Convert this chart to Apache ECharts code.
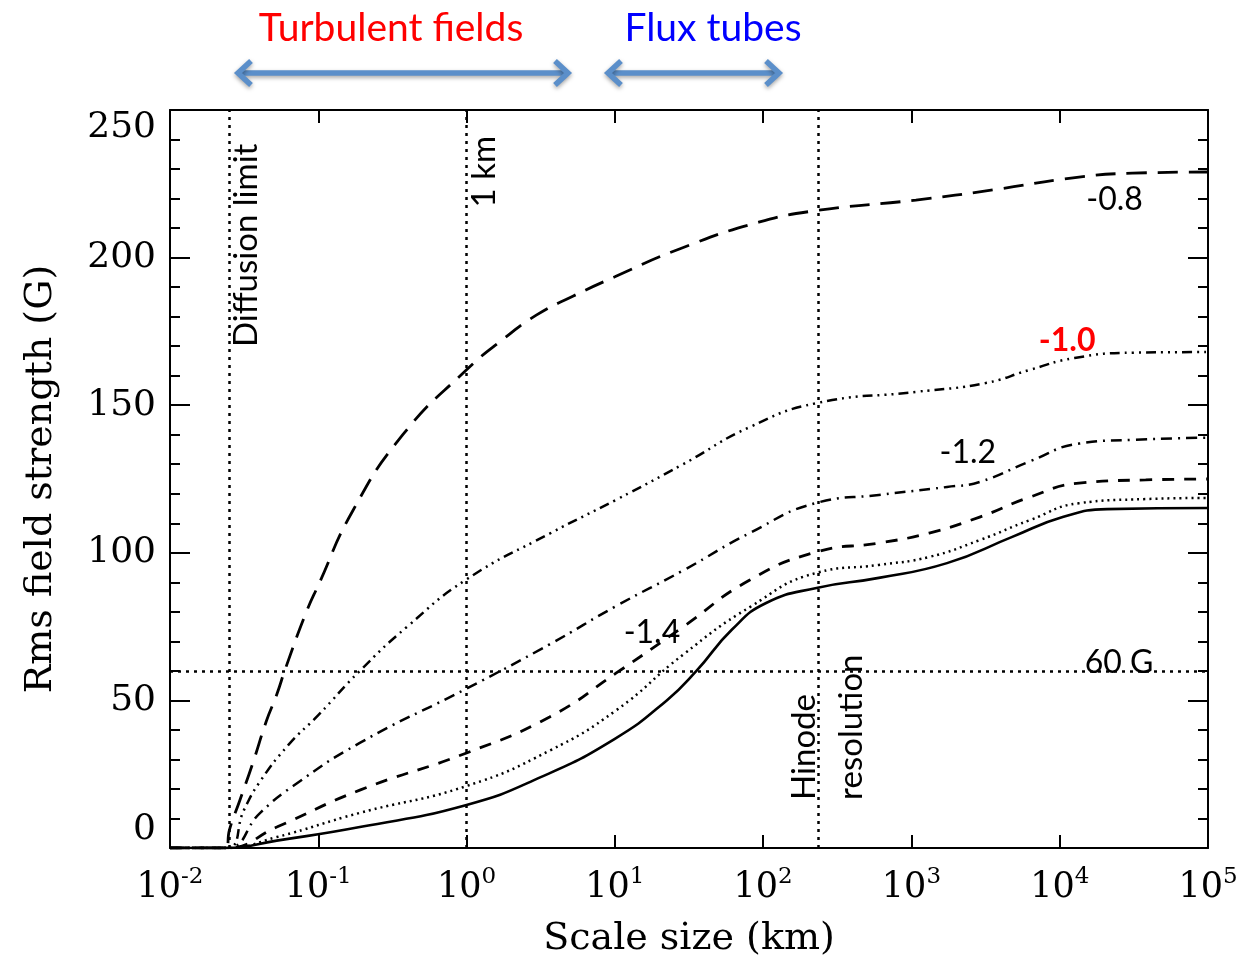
<!DOCTYPE html>
<html><head><meta charset="utf-8">
<script src="https://cdn.jsdelivr.net/npm/echarts@6/dist/echarts.min.js"></script>
<style>html,body{margin:0;padding:0;background:#fff}#c{width:1246px;height:961px}</style>
</head><body><div id="c"></div>
<script>
// x values are log10(scale size / km); y values are rms field strength in G
const xTickExponents = [-2,-1,0,1,2,3,4,5];
const slopeNames = ['-0.8','-1.0','-1.2','-1.4','-1.6','-1.8'];
const curve08 = [[-2,0],[-1.62,0],[-1.6,6],[-1.53,16],[-1.44,29],[-1.35,43],[-1.28,52],[-1.22,61],[-1.08,80],[-1.0,89],[-0.77,114],[-0.43,140],[0,162],[0.25,172.5],[0.47,180.5],[0.72,187],[1.0,193.5],[1.44,203],[1.97,212],[2.37,216],[3.03,219.5],[3.56,223],[4.09,227],[4.49,228.6],[5,229]];
const curve10 = [[-2,0],[-1.62,0],[-1.5,13],[-1.4,22],[-1.2,35],[-1.0,45],[-0.72,60],[-0.4,75],[0,91],[0.56,106.5],[1.01,118],[1.46,130],[1.91,142.6],[2.36,150.7],[3.03,154.5],[3.5,157.5],[3.8,162],[4.1,166],[4.5,167.8],[5,168]];
const curve12 = [[-2,0],[-1.62,0],[-1.39,12],[-1.17,21],[-0.72,35.6],[0,54],[0.56,69],[1.01,82],[1.46,94],[1.91,106.7],[2.36,116.9],[2.78,119.6],[3.24,122.3],[3.46,124],[3.8,131],[4.13,137],[4.5,138.3],[5,139]];
const curve14 = [[-2,0],[-1.62,0],[-1.28,7.1],[-0.72,19.6],[0,32.2],[0.56,44.4],[1.01,59.3],[1.46,74.9],[1.91,90.8],[2.36,100.3],[2.78,103.3],[3.12,106.7],[3.46,112.1],[3.8,118.9],[4.13,123.6],[4.58,124.7],[5,125]];
const curveDotted = [[-2,0],[-1.62,0],[-1.28,3.7],[-0.72,11.9],[0,21],[0.56,33],[1.01,46.7],[1.46,65.5],[1.91,81.6],[2.36,93.2],[2.78,95.9],[3.12,98.6],[3.46,104.3],[3.8,111.1],[4.13,116.8],[4.58,118.2],[5,118.6]];
const curveSolid = [[-2,0],[-1.62,0],[-1.28,2.5],[-0.72,7.1],[0,14.6],[0.5,24],[1.0,37],[1.35,50],[1.55,60],[1.79,74],[2.02,83],[2.36,88.1],[2.78,91.5],[3.24,96.5],[3.68,105.4],[4.02,112.1],[4.32,114.8],[5,115.2]];
const diffusionLimit = -1.6;   // 0.025 km
const oneKm = 0;
const hinodeRes = 2.37;        // ~235 km
const level60G = 60;

const serif = 'DejaVu Serif';
const sans = 'Lato';
const chart = echarts.init(document.getElementById('c'), null, {renderer:'canvas'});

function lineSeries(name, data, dash, width){
  return {name, type:'line', data, showSymbol:false, smooth:0.5,
    lineStyle:{color:'#000', width, type:dash}, silent:true, z:3};
}
const axisCommon = {
  type:'value', axisLine:{show:true, onZero:false, lineStyle:{color:'#000', width:2}},
  splitLine:{show:false}
};
const option = {
  animation:false,
  backgroundColor:'#fff',
  grid:{left:170, right:38, top:110, bottom:113, outerBoundsMode:'none', containLabel:false},
  xAxis:[
    Object.assign({}, axisCommon, {min:-2, max:5, interval:1, position:'bottom',
      axisTick:{show:true, inside:true, length:13, lineStyle:{color:'#000', width:2}},
      axisLabel:{show:true, margin:18, color:'#000',
        formatter:v=>'{b|10}{s|'+v+'}',
        rich:{b:{fontFamily:serif, fontSize:35, color:'#000'}, s:{fontFamily:serif, fontSize:23, color:'#000', padding:[0,0,20,0]}}},
      name:'Scale size (km)', nameLocation:'middle', nameGap:72,
      nameTextStyle:{fontFamily:serif, fontSize:38, color:'#000', verticalAlign:'top'}}),
    Object.assign({}, axisCommon, {min:-2, max:5, interval:1, position:'top',
      axisTick:{show:true, inside:true, length:13, lineStyle:{color:'#000', width:2}},
      axisLabel:{show:false}})
  ],
  yAxis:[
    Object.assign({}, axisCommon, {min:0, max:250, interval:50, position:'left',
      axisTick:{show:true, inside:true, length:20, lineStyle:{color:'#000', width:2}},
      minorTick:{show:true, splitNumber:5, length:10, lineStyle:{color:'#000', width:2}},
      axisLabel:{show:true, margin:14, color:'#000', fontFamily:serif, fontSize:36,
        verticalAlignMinLabel:'bottom', verticalAlignMaxLabel:'top'},
      name:'Rms field strength (G)', nameLocation:'middle', nameGap:110,
      nameTextStyle:{fontFamily:serif, fontSize:38, color:'#000'}}),
    Object.assign({}, axisCommon, {min:0, max:250, interval:50, position:'right',
      axisTick:{show:true, inside:true, length:20, lineStyle:{color:'#000', width:2}},
      minorTick:{show:true, splitNumber:5, length:10, lineStyle:{color:'#000', width:2}},
      axisLabel:{show:false}})
  ],
  series:[
    lineSeries(slopeNames[0], curve08, [20,11], 2.8),
    lineSeries(slopeNames[1], curve10, [10,5,2,5,2,5,2,5], 2.5),
    lineSeries(slopeNames[2], curve12, [11,6,2,6], 2.5),
    lineSeries(slopeNames[3], curve14, [12,10], 2.8),
    lineSeries(slopeNames[4], curveDotted, [2,4], 2.5),
    lineSeries(slopeNames[5], curveSolid, 'solid', 2.6),
    {type:'line', data:[], silent:true, z:2,
     markLine:{silent:true, symbol:'none', label:{show:false},
       lineStyle:{color:'#000', width:2.5, type:[3,5]},
       data:[{xAxis:diffusionLimit},{xAxis:oneKm},{xAxis:hinodeRes},{yAxis:level60G}]}}
  ]
};
chart.setOption(option);

function px(x,y){ return chart.convertToPixel({xAxisIndex:0, yAxisIndex:0},[x,y]); }
const labelFont = 32;
function txt(text, p, extra){
  return Object.assign({type:'text', x:p[0], y:p[1], z:10,
    style:Object.assign({text, fill:'#000', font:labelFont+'px '+sans, align:'center', verticalAlign:'middle'}, extra||{})});
}
function vtxt(text, p, side){
  return {type:'text', x:p[0], y:p[1], rotation:Math.PI/2, z:10,
    style:{text, fill:'#000', font:'33px '+sans, align:'left', verticalAlign:side}};
}
const arrowColor = '#5b8fca';
function arrow(x1,x2,y){
  const sh = {shadowBlur:4, shadowColor:'rgba(0,0,0,0.35)', shadowOffsetY:2};
  const st = Object.assign({stroke:arrowColor, lineWidth:5.5, lineCap:'butt', lineJoin:'miter', fill:null}, sh);
  return [
    {type:'line', shape:{x1:x1+3, y1:y, x2:x2-3, y2:y}, style:st, z:10},
    {type:'polyline', shape:{points:[[x1+13,y-12],[x1,y],[x1+13,y+12]]}, style:st, z:10},
    {type:'polyline', shape:{points:[[x2-13,y-12],[x2,y],[x2-13,y+12]]}, style:st, z:10}
  ];
}
const dl = px(diffusionLimit, 169.7);
const km = px(oneKm, 217);
const hn = px(hinodeRes, 16.3);
const graphics = [
  txt('-0.8', px(4.37, 219.5)),
  txt('-1.0', px(4.05, 172), {fill:'#ff0000', font:'bold '+labelFont+'px '+sans}),
  txt('-1.2', px(3.38, 134)),
  txt('-1.4', px(1.25, 73)),
  txt('60 G', px(4.40, 62.7)),
  vtxt('Diffusion limit', [dl[0]+1, dl[1]], 'top'),
  vtxt('1 km', [km[0]+1, km[1]], 'top'),
  vtxt('Hinode', [hn[0]+3, hn[1]], 'bottom'),
  vtxt('resolution', [hn[0]+17, hn[1]], 'top'),
  {type:'text', x:391, y:28, z:10, style:{text:'Turbulent fields', fill:'#ff0000', font:'39px '+sans, align:'center', verticalAlign:'middle'}},
  {type:'text', x:713, y:28, z:10, style:{text:'Flux tubes', fill:'#0000ff', font:'39px '+sans, align:'center', verticalAlign:'middle'}}
].concat(arrow(238,568,73)).concat(arrow(608,779,73));
chart.setOption({graphic:graphics});
</script>
</body></html>
